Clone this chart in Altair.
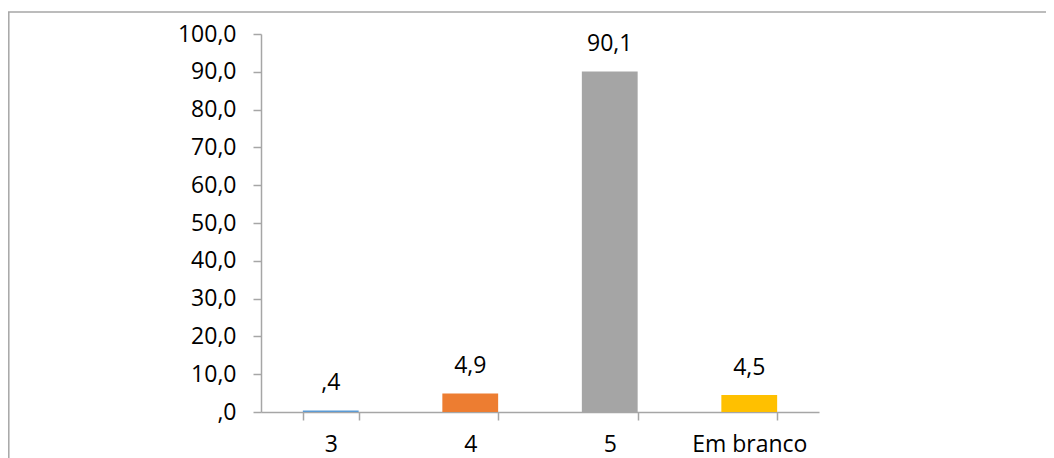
import altair as alt
import pandas as pd

categories = ["3", "4", "5", "Em branco"]
values = [0.4, 4.9, 90.1, 4.5]
colors = ["#5B9BD5", "#ED7D31", "#A5A5A5", "#FFC000"]
y_ticks = [0, 10, 20, 30, 40, 50, 60, 70, 80, 90, 100]

FONT = "Open Sans"
FS = 23
AX = "#A6A6A6"

df = pd.DataFrame({"cat": categories, "value": values, "color": colors})

xenc = alt.X(
    "cat:N", sort=categories, title=None,
    scale=alt.Scale(paddingInner=0.6, paddingOuter=0.3),
    axis=alt.Axis(labelAngle=0, tickBand="extent", tickSize=8, labelPadding=13,
                  domainColor=AX, tickColor=AX, domainWidth=1.5, tickWidth=1.5,
                  labelFont=FONT, labelFontSize=FS, labelColor="#000",
                  labelOverlap=False),
)
yenc = alt.Y(
    "value:Q", title=None, scale=alt.Scale(domain=[0, 100], nice=False),
    axis=alt.Axis(values=y_ticks, grid=False, tickSize=8, labelPadding=17,
                  domainColor=AX, tickColor=AX, domainWidth=1.5, tickWidth=1.5,
                  labelFont=FONT, labelFontSize=FS, labelColor="#000",
                  labelOverlap=False, labelBound=False, labelFlush=False,
                  labelExpr="datum.value == 0 ? ',0' : format(datum.value, 'd') + ',0'"),
)

base = alt.Chart(df)
bars = base.mark_bar().encode(
    x=xenc, y=yenc, color=alt.Color("color:N", scale=None)
)
labels = base.transform_calculate(
    lbl="datum.value < 1 ? substring(replace(format(datum.value, '.1f'), '.', ','), 1) : replace(format(datum.value, '.1f'), '.', ',')"
).mark_text(dy=-27, font=FONT, fontSize=FS, color="#000").encode(
    x=xenc, y=yenc, text="lbl:N"
)

frame_df = pd.DataFrame({"k": [0]})
left_line = alt.Chart(frame_df).mark_rule(color=AX, strokeWidth=1.5).encode(
    x=alt.value(-252.2), y=alt.value(-22), y2=alt.value(430)
)
top_line = alt.Chart(frame_df).mark_rule(color=AX, strokeWidth=1.5).encode(
    x=alt.value(-253), x2=alt.value(800), y=alt.value(-22)
)

chart = alt.layer(bars, labels, left_line, top_line).properties(
    width=558, height=378,
    autosize=alt.AutoSizeParams(type="none"),
    padding={"left": 253, "top": 26, "right": 227, "bottom": 46},
).configure_view(stroke=None)

chart.save("out.html", embed_options={"renderer": "svg", "actions": False})
